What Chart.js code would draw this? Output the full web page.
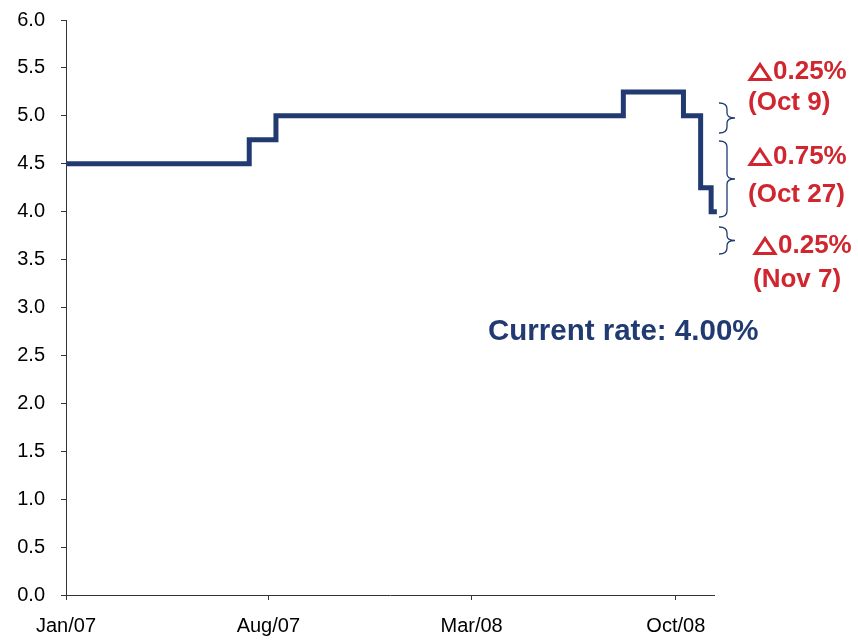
<!DOCTYPE html>
<html>
<head>
<meta charset="utf-8">
<script src="https://cdn.jsdelivr.net/npm/chart.js@4/dist/chart.umd.min.js"></script>
<style>
  html, body { margin: 0; padding: 0; background: #fff; }
  #wrap { width: 858px; height: 640px; }
</style>
</head>
<body>
<div id="wrap"><canvas id="rateChart" width="858" height="640"></canvas></div>
<script>
// ── data ──
const changeDates = ['2007-01-01', '2007-07-12', '2007-08-09', '2008-08-07', '2008-10-09', '2008-10-27', '2008-11-07', '2008-11-13'];
const rates       = [4.50, 4.75, 5.00, 5.25, 5.00, 4.25, 4.00, 4.00];
const tickDates   = ['2007-01-01', '2007-08-01', '2008-03-01', '2008-10-01'];
const tickLabels  = ['Jan/07', 'Aug/07', 'Mar/08', 'Oct/08'];
const yTicks      = [0, 0.5, 1, 1.5, 2, 2.5, 3, 3.5, 4, 4.5, 5, 5.5, 6];

const NAVY = '#213B72';
const RED = '#D0262F';
const START = Date.UTC(2007, 0, 1);
const dayOf = s => (Date.parse(s + 'T00:00:00Z') - START) / 86400000;

const points = changeDates.map((d, i) => ({ x: dayOf(d), y: rates[i] }));
const tickDays = tickDates.map(dayOf);

// annotations: braces and red notes, drawn after the chart
const notes = [
  { delta: '0.25%', date: '(Oct 9)', x: 748, y: [72, 103], brace: [719, 103, 133] },
  { delta: '0.75%', date: '(Oct 27)', x: 748, y: [157, 195], brace: [719, 141, 217] },
  { delta: '0.25%', date: '(Nov 7)', x: 753, y: [246, 280], brace: [719, 227, 254] }
];

function brace(ctx, x, y0, y1, w) {
  const m = (y0 + y1) / 2, h = w / 2;
  ctx.beginPath();
  ctx.moveTo(x, y0);
  ctx.quadraticCurveTo(x + h, y0, x + h, y0 + 6);
  ctx.lineTo(x + h, m - 5);
  ctx.quadraticCurveTo(x + h, m, x + w, m);
  ctx.quadraticCurveTo(x + h, m, x + h, m + 5);
  ctx.lineTo(x + h, y1 - 6);
  ctx.quadraticCurveTo(x + h, y1, x, y1);
  ctx.stroke();
}

const notesPlugin = {
  id: 'notes',
  afterDraw(chart) {
    const ctx = chart.ctx;
    ctx.save();
    ctx.strokeStyle = NAVY;
    ctx.lineWidth = 1.3;
    ctx.fillStyle = RED;
    ctx.textAlign = 'left';
    ctx.textBaseline = 'middle';
    const textFont = 'bold 26px "Liberation Sans", Arial, sans-serif';
    notes.forEach(n => {
      brace(ctx, n.brace[0], n.brace[1], n.brace[2], 16);
      // open triangle (delta sign)
      ctx.save();
      ctx.strokeStyle = RED;
      ctx.lineWidth = 3;
      ctx.lineJoin = 'miter';
      ctx.beginPath();
      ctx.moveTo(n.x + 2, n.y[0] + 7.5);
      ctx.lineTo(n.x + 12, n.y[0] - 7.5);
      ctx.lineTo(n.x + 22, n.y[0] + 7.5);
      ctx.closePath();
      ctx.stroke();
      ctx.restore();
      ctx.font = textFont;
      ctx.fillText(n.delta, n.x + 25, n.y[0]);
      ctx.fillText(n.date, n.x, n.y[1]);
    });
    ctx.fillStyle = NAVY;
    ctx.font = 'bold 29.5px "Liberation Sans", Arial, sans-serif';
    ctx.fillText('Current rate: 4.00%', 488, 332);
    ctx.restore();
  }
};

new Chart(document.getElementById('rateChart'), {
  type: 'line',
  data: {
    datasets: [{
      data: points,
      stepped: true,
      borderColor: NAVY,
      borderWidth: 5,
      pointRadius: 0,
      fill: false,
      clip: 10
    }]
  },
  options: {
    responsive: false,
    animation: false,
    layout: { padding: { top: 20, right: 144, bottom: 0, left: 0 } },
    plugins: { legend: { display: false }, tooltip: { enabled: false } },
    scales: {
      x: {
        type: 'linear',
        min: 0,
        max: dayOf('2008-11-10'),
        afterBuildTicks: s => { s.ticks = tickDays.map(v => ({ value: v })); },
        afterFit: s => { s.height = 45; s.paddingLeft = 0; s.paddingRight = 0; },
        ticks: {
          color: '#000',
          font: { family: '"Liberation Sans", Arial', size: 20 },
          padding: 14,
          maxRotation: 0,
          autoSkip: false,
          callback: (v, i) => tickLabels[i]
        },
        grid: { drawOnChartArea: false, tickLength: 5, color: '#333' },
        border: { color: '#333', width: 1 }
      },
      y: {
        min: 0,
        max: 6,
        afterBuildTicks: s => { s.ticks = yTicks.map(v => ({ value: v })); },
        afterFit: s => { s.width = 66; s.paddingTop = 0; s.paddingBottom = 0; },
        ticks: {
          color: '#000',
          font: { family: '"Liberation Sans", Arial', size: 20 },
          padding: 16,
          callback: v => v.toFixed(1)
        },
        grid: { drawOnChartArea: false, tickLength: 5, color: '#333' },
        border: { color: '#333', width: 1 }
      }
    }
  },
  plugins: [notesPlugin]
});
</script>
</body>
</html>
